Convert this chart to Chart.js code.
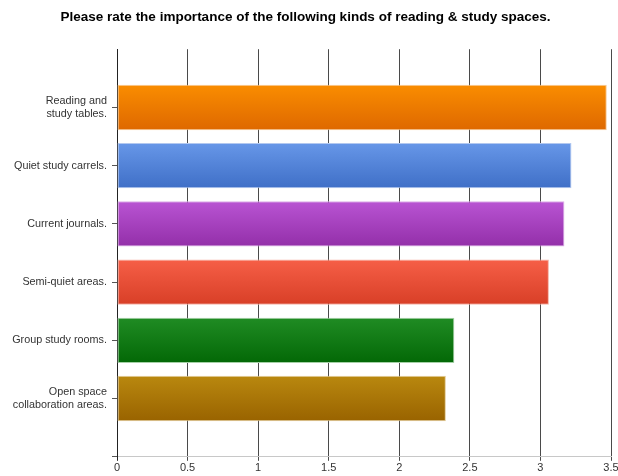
<!DOCTYPE html>
<html>
<head>
<meta charset="utf-8">
<script src="https://cdn.jsdelivr.net/npm/chart.js@4/dist/chart.umd.min.js"></script>
<style>
  html, body { margin: 0; padding: 0; background: #fff; }
  #wrap { width: 618px; height: 476px; }
</style>
</head>
<body>
<div id="wrap"><canvas id="chart"></canvas></div>
<script>
const title = 'Please rate the importance of the following kinds of reading & study spaces.';

const categories = [
  ['Reading and', 'study tables.'],
  'Quiet study carrels.',
  'Current journals.',
  'Semi-quiet areas.',
  'Group study rooms.',
  ['Open space', 'collaboration areas.'],
];
const ratings = [3.47, 3.22, 3.17, 3.06, 2.39, 2.33];

const xTicks = [0, 0.5, 1, 1.5, 2, 2.5, 3, 3.5];

// top / bottom colour of each bar's gradient, plus a pale edge
const gradTop    = ['#fa8d00', '#6797e8', '#b954d3', '#f65f47', '#208c24', '#b9880f'];
const gradBottom = ['#de6800', '#3f6fc7', '#932fa9', '#d83f27', '#036806', '#996300'];
const edges      = ['#f7c994', '#b3c8ef', '#dcaee8', '#f6b3a6', '#a5d0a6', '#e3cc98'];

// blank slot above and below, like the original
const labels = ['', ...categories, ''];
const values = [null, ...ratings, null];

const BAR_PCT = 0.78;

function barFill(ctx) {
  const k = ctx.dataIndex - 1;
  if (k < 0 || k >= ratings.length) return 'rgba(0,0,0,0)';
  const y = ctx.chart.scales.y;
  if (!y || !y.getPixelForValue) return gradTop[k];
  const center = y.getPixelForValue(ctx.dataIndex);
  const half = (y.getPixelForValue(1) - y.getPixelForValue(0)) * BAR_PCT / 2;
  const g = ctx.chart.ctx.createLinearGradient(0, center - half, 0, center + half);
  g.addColorStop(0, gradTop[k]);
  g.addColorStop(1, gradBottom[k]);
  return g;
}

const font = 'Arial, "Liberation Sans", sans-serif';

new Chart(document.getElementById('chart'), {
  type: 'bar',
  data: {
    labels,
    datasets: [{
      data: values,
      backgroundColor: barFill,
      borderColor: ctx => edges[ctx.dataIndex - 1] || 'rgba(0,0,0,0)',
      borderWidth: 1,
      borderSkipped: false,
      barPercentage: BAR_PCT,
      categoryPercentage: 1,
    }],
  },
  options: {
    indexAxis: 'y',
    responsive: true,
    maintainAspectRatio: false,
    animation: false,
    layout: { padding: { left: 0, right: 7, top: 0, bottom: 0 } },
    plugins: {
      legend: { display: false },
      tooltip: { enabled: false },
      title: {
        display: true,
        text: title,
        color: '#000',
        font: { family: font, size: 13.5, weight: 'bold', lineHeight: 1.2 },
        padding: { top: 9, bottom: 24 },
      },
    },
    scales: {
      x: {
        type: 'linear',
        min: 0,
        max: 3.5,
        afterBuildTicks: s => { s.ticks = xTicks.map(v => ({ value: v })); },
        afterFit: s => { s.paddingRight = 0; s.paddingLeft = 0; },
        grid: {
          color: ctx => ctx.tick && ctx.tick.value === 0 ? '#222' : '#4a4a4a',
          lineWidth: 1,
          tickLength: 4,
        },
        border: { display: true, color: '#c8c8c8' },
        ticks: {
          color: '#333',
          padding: 1,
          font: { family: font, size: 11 },
          callback: v => String(v),
        },
      },
      y: {
        type: 'category',
        offset: false,
        afterFit: s => { s.width = 117; },
        grid: {
          offset: false,
          drawOnChartArea: false,
          tickLength: 5,
          tickColor: ctx => ctx.index === 0 ? 'rgba(0,0,0,0)' : '#555',
        },
        border: { display: true, color: '#222' },
        ticks: {
          color: '#333',
          padding: 5,
          autoSkip: false,
          font: { family: font, size: 10.8, lineHeight: 1.2 },
        },
      },
    },
  },
});
</script>
</body>
</html>
